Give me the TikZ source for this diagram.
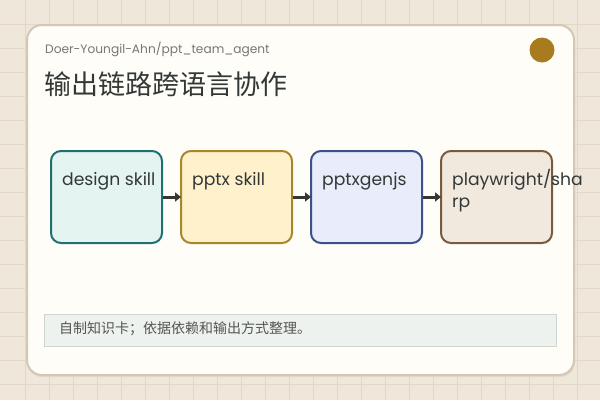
\documentclass[tikz,border=0pt]{standalone}
\usepackage{fontspec}
\setmainfont{Poppins}
\newfontfamily\cjk{Noto Sans CJK SC}
\usetikzlibrary{arrows.meta}
\definecolor{bgc}{HTML}{EFE7DA}
\definecolor{gridc}{HTML}{E2D8C7}
\definecolor{cardc}{HTML}{FFFDF8}
\definecolor{cardb}{HTML}{D5C7B3}
\definecolor{dotc}{HTML}{A87B1F}
\definecolor{txt}{HTML}{333836}
\definecolor{subc}{HTML}{777777}
\definecolor{fa}{HTML}{E4F4F1}\definecolor{ba}{HTML}{1F7070}
\definecolor{fb}{HTML}{FFF1CC}\definecolor{bb}{HTML}{A8862A}
\definecolor{fc}{HTML}{E8ECFB}\definecolor{bc}{HTML}{3D5088}
\definecolor{fd}{HTML}{F1E8DE}\definecolor{bd}{HTML}{7A5A3D}
\definecolor{notef}{HTML}{EDF2EE}\definecolor{noteb}{HTML}{CFD6D0}
\definecolor{notet}{HTML}{555555}
\tikzset{
  stage/.style={draw=#1, line width=2pt, rounded corners=10pt, minimum width=111pt, minimum height=92pt, inner sep=0pt, anchor=north west},
  lbl/.style={anchor=base west, inner sep=0pt, text=txt, font=\fontsize{17.2}{22}\selectfont, align=left},
  flow/.style={draw=txt, line width=3pt, -{Triangle[length=6pt,width=9pt]}, shorten >=-1pt},
}
\begin{document}
\begin{tikzpicture}[x=1pt,y=-1pt]
\useasboundingbox (0,0) rectangle (600,400);
\fill[bgc] (0,0) rectangle (600,400);
\foreach \i in {1,...,24} {\draw[gridc, line width=1pt] (\i*24+1,0) -- (\i*24+1,400);}
\foreach \j in {1,...,16} {\draw[gridc, line width=1pt] (0,\j*24) -- (600,\j*24);}
% shadow + card
\fill[cardb!70, rounded corners=15pt] (27,27) rectangle (575,377);
\draw[cardb, fill=cardc, line width=2pt, rounded corners=15pt] (27,25) rectangle (574,375);
\node[circle, fill=dotc, minimum size=25pt, inner sep=0pt] (dot) at (542,50) {};
\node[anchor=base west, inner sep=0pt, text=subc, font=\fontsize{12.2}{14}\selectfont] (sub) at (45,53) {Doer-Youngil-Ahn/ppt\_team\_agent};
\node[anchor=west, inner sep=0pt, text=txt, font=\cjk\fontsize{27}{30}\selectfont] (title) at (44,84.5) {输出链路跨语言协作};
% stages
\node[stage=ba, fill=fa] (s1) at (50,150) {};
\node[stage=bb, fill=fb] (s2) at (180,150) {};
\node[stage=bc, fill=fc] (s3) at (310,150) {};
\node[stage=bd, fill=fd] (s4) at (440,150) {};
\node[lbl] (t1) at (62,185) {design skill};
\node[lbl] (t2) at (192,185) {pptx skill};
\node[lbl] (t3) at (322,185) {pptxgenjs};
\node[lbl] (t4) at (452,207) {playwright/sha\\rp};
\draw[flow] (s1.east) -- (s2.west);
\draw[flow] (s2.east) -- (s3.west);
\draw[flow] (s3.east) -- (s4.west);
% note
\node[draw=noteb, fill=notef, line width=1pt, minimum width=512pt, minimum height=32pt, anchor=north west, inner sep=0pt] (note) at (44,313.5) {};
\node[anchor=west, inner sep=0pt, text=notet, font=\cjk\fontsize{14}{16}\selectfont] (notetxt) at (59,329) {自制知识卡；依据依赖和输出方式整理。};
\end{tikzpicture}
\end{document}
